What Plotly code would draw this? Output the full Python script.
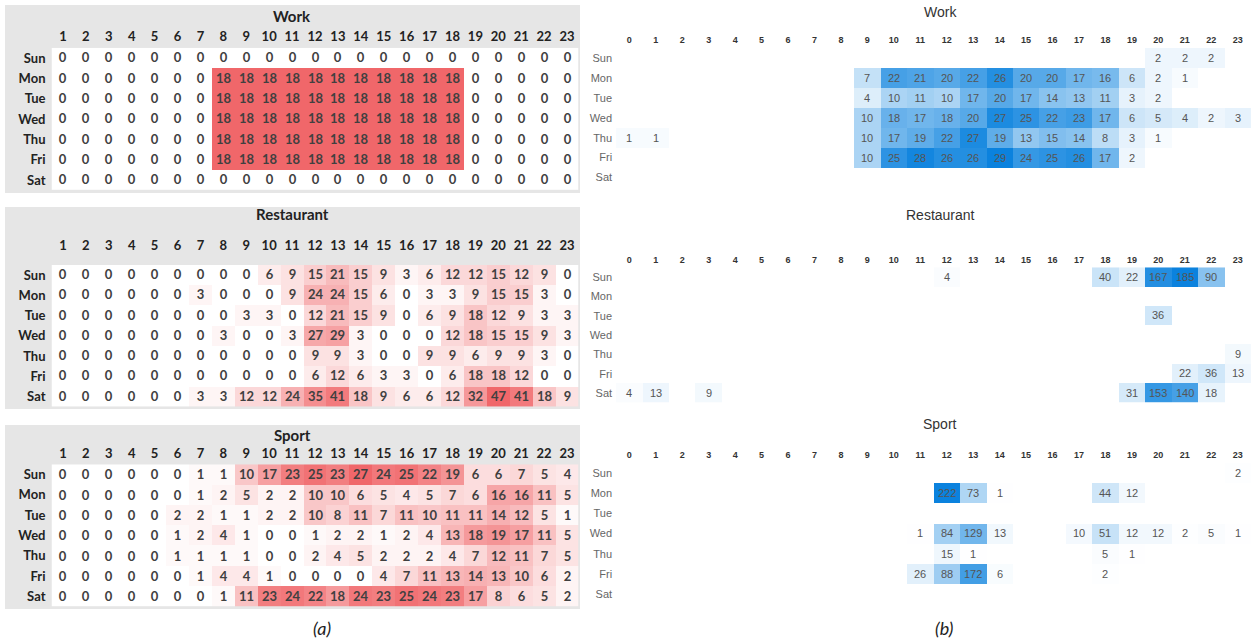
import plotly.graph_objects as go

W, H = 1254, 643
N = None

DAYS = ["Sun", "Mon", "Tue", "Wed", "Thu", "Fri", "Sat"]
HOURS_A = list(range(1, 24))
HOURS_B = list(range(0, 24))

# ---- (a) scheduled activity counts, hours 1..23 ----
work_a = [
    [0] * 23,
    [0, 0, 0, 0, 0, 0, 0, 18, 18, 18, 18, 18, 18, 18, 18, 18, 18, 18, 0, 0, 0, 0, 0],
    [0, 0, 0, 0, 0, 0, 0, 18, 18, 18, 18, 18, 18, 18, 18, 18, 18, 18, 0, 0, 0, 0, 0],
    [0, 0, 0, 0, 0, 0, 0, 18, 18, 18, 18, 18, 18, 18, 18, 18, 18, 18, 0, 0, 0, 0, 0],
    [0, 0, 0, 0, 0, 0, 0, 18, 18, 18, 18, 18, 18, 18, 18, 18, 18, 18, 0, 0, 0, 0, 0],
    [0, 0, 0, 0, 0, 0, 0, 18, 18, 18, 18, 18, 18, 18, 18, 18, 18, 18, 0, 0, 0, 0, 0],
    [0] * 23,
]
restaurant_a = [
    [0, 0, 0, 0, 0, 0, 0, 0, 0, 6, 9, 15, 21, 15, 9, 3, 6, 12, 12, 15, 12, 9, 0],
    [0, 0, 0, 0, 0, 0, 3, 0, 0, 0, 9, 24, 24, 15, 6, 0, 3, 3, 9, 15, 15, 3, 0],
    [0, 0, 0, 0, 0, 0, 0, 0, 3, 3, 0, 12, 21, 15, 9, 0, 6, 9, 18, 12, 9, 3, 3],
    [0, 0, 0, 0, 0, 0, 0, 3, 0, 0, 3, 27, 29, 3, 0, 0, 0, 12, 18, 15, 15, 9, 3],
    [0, 0, 0, 0, 0, 0, 0, 0, 0, 0, 0, 9, 9, 3, 0, 0, 9, 9, 6, 9, 9, 3, 0],
    [0, 0, 0, 0, 0, 0, 0, 0, 0, 0, 0, 6, 12, 6, 3, 3, 0, 6, 18, 18, 12, 0, 0],
    [0, 0, 0, 0, 0, 0, 3, 3, 12, 12, 24, 35, 41, 18, 9, 6, 6, 12, 32, 47, 41, 18, 9],
]
sport_a = [
    [0, 0, 0, 0, 0, 0, 1, 1, 10, 17, 23, 25, 23, 27, 24, 25, 22, 19, 6, 6, 7, 5, 4],
    [0, 0, 0, 0, 0, 0, 1, 2, 5, 2, 2, 10, 10, 6, 5, 4, 5, 7, 6, 16, 16, 11, 5],
    [0, 0, 0, 0, 0, 2, 2, 1, 1, 2, 2, 10, 8, 11, 7, 11, 10, 11, 11, 14, 12, 5, 1],
    [0, 0, 0, 0, 0, 1, 2, 4, 1, 0, 0, 1, 2, 2, 1, 2, 4, 13, 18, 19, 17, 11, 5],
    [0, 0, 0, 0, 0, 1, 1, 1, 1, 0, 0, 2, 4, 5, 2, 2, 2, 4, 7, 12, 11, 7, 5],
    [0, 0, 0, 0, 0, 0, 1, 4, 4, 1, 0, 0, 0, 0, 4, 7, 11, 13, 14, 13, 10, 6, 2],
    [0, 0, 0, 0, 0, 0, 0, 1, 11, 23, 24, 22, 18, 24, 23, 25, 24, 23, 17, 8, 6, 5, 2],
]

# ---- (b) observed check-in counts, hours 0..23 (None = no check-ins) ----
work_b = [
    [N] * 20 + [2, 2, 2, N],
    [N] * 9 + [7, 22, 21, 20, 22, 26, 20, 20, 17, 16, 6, 2, 1] + [N] * 2,
    [N] * 9 + [4, 10, 11, 10, 17, 20, 17, 14, 13, 11, 3, 2] + [N] * 3,
    [N] * 9 + [10, 18, 17, 18, 20, 27, 25, 22, 23, 17, 6, 5, 4, 2, 3],
    [1, 1] + [N] * 7 + [10, 17, 19, 22, 27, 19, 13, 15, 14, 8, 3, 1] + [N] * 3,
    [N] * 9 + [10, 25, 28, 26, 26, 29, 24, 25, 26, 17, 2] + [N] * 4,
    [N] * 24,
]
restaurant_b = [
    [N] * 12 + [4] + [N] * 5 + [40, 22, 167, 185, 90, N],
    [N] * 24,
    [N] * 20 + [36] + [N] * 3,
    [N] * 24,
    [N] * 23 + [9],
    [N] * 21 + [22, 36, 13],
    [4, 13, N, 9] + [N] * 15 + [31, 153, 140, 18, N],
]
sport_b = [
    [N] * 23 + [2],
    [N] * 12 + [222, 73, 1] + [N] * 3 + [44, 12] + [N] * 4,
    [N] * 24,
    [N] * 11 + [1, 84, 129, 13] + [N] * 2 + [10, 51, 12, 12, 2, 5, 1],
    [N] * 12 + [15, 1] + [N] * 4 + [5, 1] + [N] * 4,
    [N] * 11 + [26, 88, 172, 6] + [N] * 3 + [2] + [N] * 5,
    [N] * 24,
]

RED_SCALE = [[0.0, "#ffffff"], [1.0, "#f0676a"]]
BLUE_SCALE = [[0.0, "#ffffff"], [1.0, "#0b82de"]]
GRAY = "#e6e6e6"

# pixel geometry of each grid: (x0, x1, y0, y1) in page pixels, top-down
panels = [
    dict(title="Work", z=work_a, hours=HOURS_A, kind="a",
         box=(51.5, 578.5, 47.8, 190.2), title_y=16, bg=(5, 193), standoff=3),
    dict(title="Restaurant", z=restaurant_a, hours=HOURS_A, kind="a",
         box=(51.5, 578.5, 264.9, 406.6), title_y=214, bg=(207, 409), standoff=11),
    dict(title="Sport", z=sport_a, hours=HOURS_A, kind="a",
         box=(51.5, 578.5, 464.3, 606.7), title_y=435, bg=(425, 609), standoff=3),
    dict(title="Work", z=work_b, hours=HOURS_B, kind="b",
         box=(616.1, 1250.9, 48.0, 187.5), title_y=12, standoff=2),
    dict(title="Restaurant", z=restaurant_b, hours=HOURS_B, kind="b",
         box=(616.1, 1250.9, 267.3, 402.7), title_y=215, standoff=2),
    dict(title="Sport", z=sport_b, hours=HOURS_B, kind="b",
         box=(616.1, 1250.9, 463.2, 604.0), title_y=424, standoff=2),
]

fig = go.Figure()
layout = dict(
    width=W, height=H,
    margin=dict(l=0, r=0, t=0, b=0),
    paper_bgcolor="white", plot_bgcolor="white",
    showlegend=False,
    shapes=[], annotations=[],
)

for i, p in enumerate(panels, start=1):
    xa = "x" if i == 1 else f"x{i}"
    ya = "y" if i == 1 else f"y{i}"
    x0, x1, y0, y1 = p["box"]
    flat = [v for row in p["z"] for v in row if v is not None]
    zmax = max(flat)
    if p["kind"] == "a":
        text = [[str(v) for v in row] for row in p["z"]]
        tfont = dict(family="Lato", size=13, color="#404040", weight="bold")
        scale = RED_SCALE
    else:
        text = [["" if v is None else str(v) for v in row] for row in p["z"]]
        tfont = dict(family="Liberation Sans, Arial", size=11, color="#555555")
        scale = BLUE_SCALE

    fig.add_trace(go.Heatmap(
        z=p["z"], x=p["hours"], y=DAYS,
        text=text, texttemplate="%{text}", textfont=tfont,
        colorscale=scale, zmin=0, zmax=zmax, showscale=False,
        hoverinfo="skip", xaxis=xa, yaxis=ya,
    ))

    if p["kind"] == "a":
        xfont = dict(family="Lato", size=13, color="#222222", weight="bold")
        yfont = dict(family="Lato", size=13, color="#222222", weight="bold")
        ystand = 5
    else:
        xfont = dict(family="Liberation Sans, Arial", size=9, color="#333333", weight="bold")
        yfont = dict(family="Liberation Sans, Arial", size=11, color="#666666")
        ystand = 3

    layout["xaxis" if i == 1 else f"xaxis{i}"] = dict(
        domain=[x0 / W, x1 / W], anchor=ya, side="top",
        range=[p["hours"][0] - 0.5, p["hours"][-1] + 0.5],
        tickmode="array", tickvals=p["hours"], ticktext=[str(h) for h in p["hours"]],
        tickfont=xfont, ticks="", showgrid=False, zeroline=False, showline=False,
        ticklabelstandoff=p["standoff"], fixedrange=True,
    )
    layout["yaxis" if i == 1 else f"yaxis{i}"] = dict(
        domain=[1 - y1 / H, 1 - y0 / H], anchor=xa,
        type="category", categoryorder="array", categoryarray=DAYS,
        autorange="reversed",
        tickfont=yfont, ticks="", showgrid=False, zeroline=False, showline=False,
        ticklabelstandoff=ystand, fixedrange=True,
    )

    if p["kind"] == "a":
        b0, b1 = p["bg"]
        layout["shapes"].append(dict(
            type="rect", xref="paper", yref="paper", layer="below",
            x0=5 / W, x1=580 / W, y0=1 - b1 / H, y1=1 - b0 / H,
            fillcolor=GRAY, line=dict(width=0),
        ))
        layout["annotations"].append(dict(
            text=p["title"], xref="paper", yref="paper",
            x=292 / W, y=1 - p["title_y"] / H, xanchor="center", yanchor="middle",
            showarrow=False, font=dict(family="Lato", size=15, color="#222222", weight="bold"),
        ))
    else:
        layout["annotations"].append(dict(
            text=p["title"], xref="paper", yref="paper",
            x=940 / W, y=1 - p["title_y"] / H, xanchor="center", yanchor="middle",
            showarrow=False, font=dict(family="Liberation Sans, Arial", size=14, color="#333333"),
        ))

for label, xc in (("(a)", 322), ("(b)", 944)):
    layout["annotations"].append(dict(
        text=f"<i>{label}</i>", xref="paper", yref="paper",
        x=xc / W, y=1 - 628 / H, xanchor="center", yanchor="middle",
        showarrow=False, font=dict(family="Lato", size=18, color="#222222"),
    ))

fig.update_layout(**layout)
fig.write_html("out.html")
